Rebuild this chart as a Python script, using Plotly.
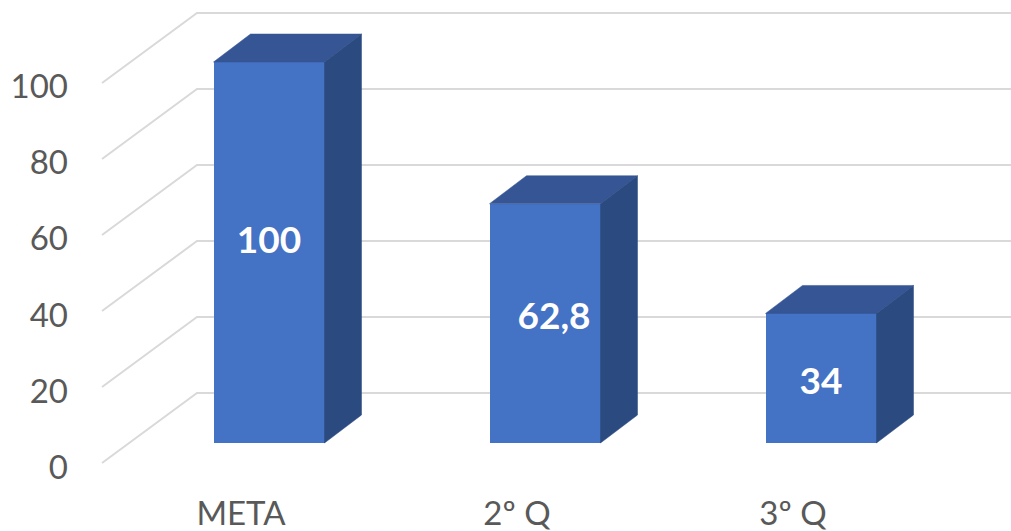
import plotly.graph_objects as go

categories = ["META", "2º Q", "3º Q"]
values = [100, 62.8, 34]
value_labels = ["100", "62,8", "34"]
axis_ticks = [0, 20, 40, 60, 80, 100]

W, H = 1011, 531
ML, MB = 75, 40
PX_X = 276.0          # pixels per category
PX_Y = 3.81           # pixels per value unit
X0_PX, Y0_PX = 269.0, 443.0
BAR_W = 111 / PX_X
DX, DY = 37 / PX_X, 28 / PX_Y              # bar depth
# wall geometry, in data units relative to the bar floor
WALL_LEFT_BACK = (197 - X0_PX) / PX_X
WALL_LEFT_FRONT = (102 - X0_PX) / PX_X
FLOOR_BACK = (Y0_PX - 393) / PX_Y
FLOOR_FRONT = (Y0_PX - 463) / PX_Y
WALL_RIGHT = (1011 - X0_PX) / PX_X
XR = [(ML - X0_PX) / PX_X, (W - X0_PX) / PX_X]
YR = [(Y0_PX - (H - MB)) / PX_Y, Y0_PX / PX_Y]

# placement of the value labels inside the bars (pixel nudges, style only)
LABEL_DX = [0, 9, 0]
LABEL_DY = [9, 4, -7]
TICK_SHIFT = -28 / PX_X

GRID = "#D9D9D9"; TXT = "#595959"; FRONT = "#4472C4"; SIDE = "#2B4A80"; TOP = "#355594"
FONT = "Lato"

fig = go.Figure()

shapes = []
for t in axis_ticks:
    yb = FLOOR_BACK + t * 76 / 20 / PX_Y
    yf = FLOOR_FRONT + t * 76 / 20 / PX_Y
    shapes.append(dict(type="path", xref="x", yref="y", layer="below",
                       path=f"M {WALL_LEFT_FRONT} {yf} L {WALL_LEFT_BACK} {yb} L {WALL_RIGHT} {yb}",
                       line=dict(color=GRID, width=2)))

xs = list(range(len(categories)))
fig.add_trace(go.Bar(x=xs, y=values, width=BAR_W, marker=dict(color=FRONT, line_width=0),
                     hoverinfo="x+y", showlegend=False))
for x, v in zip(xs, values):
    l, r = x - BAR_W / 2, x + BAR_W / 2
    fig.add_trace(go.Scatter(x=[l, r, r + DX, l + DX, l], y=[v, v, v + DY, v + DY, v], mode="lines",
                             fill="toself", fillcolor=TOP, line=dict(width=0.5, color=TOP),
                             hoverinfo="skip", showlegend=False))
    fig.add_trace(go.Scatter(x=[r, r + DX, r + DX, r, r], y=[0, DY, v + DY, v, 0], mode="lines",
                             fill="toself", fillcolor=SIDE, line=dict(width=0.5, color=SIDE),
                             hoverinfo="skip", showlegend=False))

fig.add_trace(go.Scatter(
    x=[x + d / PX_X for x, d in zip(xs, LABEL_DX)],
    y=[v / 2 + d / PX_Y for v, d in zip(values, LABEL_DY)],
    text=value_labels, mode="text", textposition="middle center",
    textfont=dict(family=FONT, size=37, color="white", weight="bold"),
    hoverinfo="skip", showlegend=False))

fig.add_trace(go.Scatter(x=[xs[0]], y=[0], yaxis="y2", mode="markers", marker=dict(opacity=0),
                         hoverinfo="skip", showlegend=False))

plot_h = H - MB
PX_T = 76.2 / 20
y2_top = 467.5 / PX_T
y2_bot = (467.5 - plot_h) / PX_T

fig.update_layout(
    width=W, height=H, autosize=False, margin=dict(l=ML, r=0, t=0, b=MB),
    paper_bgcolor="white", plot_bgcolor="white", bargap=0, shapes=shapes,
    xaxis=dict(range=XR, tickmode="array", tickvals=[x + TICK_SHIFT for x in xs], ticktext=categories,
               showgrid=False, zeroline=False, showline=False, ticks="", ticklabelstandoff=0,
               tickfont=dict(family=FONT, size=33, color=TXT)),
    yaxis=dict(range=YR, visible=False),
    yaxis2=dict(range=[y2_bot, y2_top], overlaying="y", side="left", tickmode="array",
                tickvals=axis_ticks, showgrid=False, zeroline=False, showline=False, ticks="",
                tickfont=dict(family=FONT, size=33, color=TXT), ticklabelstandoff=6),
)
fig.write_html("out.html", config={"displayModeBar": False},
               post_script="document.body.style.margin='0';")
